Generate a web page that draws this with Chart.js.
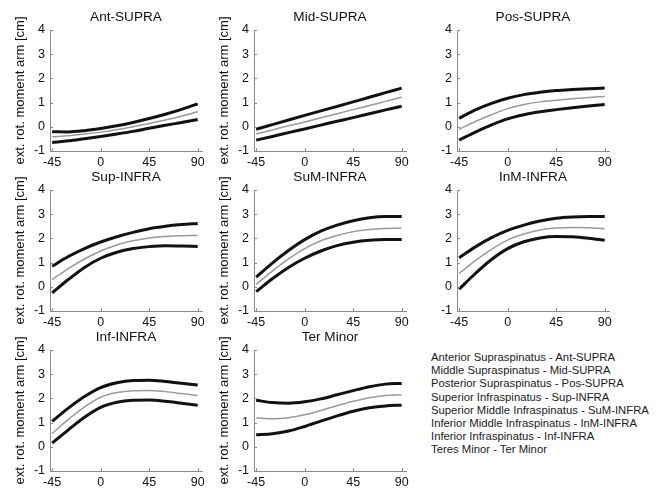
<!DOCTYPE html>
<html>
<head>
<meta charset="utf-8">
<script src="https://cdn.jsdelivr.net/npm/chart.js@4.4.1/dist/chart.umd.min.js"></script>
<style>
  html, body { margin: 0; padding: 0; background: #fff; }
  #page { position: relative; width: 662px; height: 489px; overflow: hidden; font-family: 'Liberation Sans', Arial, sans-serif; }
  .panel { position: absolute; }
  .panel canvas { display: block; }
  #key { position: absolute; left: 431px; top: 351px; font-size: 11.3px; line-height: 13.2px; color: #1a1a1a; white-space: nowrap; }
</style>
</head>
<body>
<div id="page"><div id="key"></div></div>
<script>
// DATA
const angles = [-45, -30, -15, 0, 15, 30, 45, 60, 75, 90];
const xTicks = [-45, 0, 45, 90];
const yLabel = 'ext. rot. moment arm [cm]';

const antUpper = [-0.2, -0.21, -0.16, -0.07, 0.04, 0.18, 0.34, 0.52, 0.72, 0.95];
const antMean  = [-0.41, -0.37, -0.3, -0.22, -0.12, 0.0, 0.14, 0.28, 0.44, 0.62];
const antLower = [-0.65, -0.58, -0.49, -0.4, -0.3, -0.19, -0.06, 0.06, 0.18, 0.3];

const midUpper = [-0.1, 0.09, 0.28, 0.47, 0.66, 0.84, 1.03, 1.22, 1.41, 1.6];
const midMean  = [-0.3, -0.13, 0.04, 0.2, 0.37, 0.54, 0.71, 0.88, 1.05, 1.22];
const midLower = [-0.55, -0.4, -0.24, -0.09, 0.07, 0.23, 0.38, 0.54, 0.7, 0.85];

const posUpper = [0.35, 0.7, 0.97, 1.18, 1.33, 1.43, 1.5, 1.54, 1.57, 1.6];
const posMean  = [-0.1, 0.22, 0.5, 0.75, 0.92, 1.03, 1.1, 1.16, 1.21, 1.25];
const posLower = [-0.55, -0.22, 0.08, 0.33, 0.5, 0.62, 0.71, 0.79, 0.86, 0.92];

const supUpper = [0.85, 1.25, 1.58, 1.85, 2.07, 2.25, 2.4, 2.5, 2.57, 2.62];
const supMean  = [0.3, 0.75, 1.15, 1.48, 1.73, 1.9, 2.02, 2.08, 2.11, 2.12];
const supLower = [-0.25, 0.3, 0.8, 1.18, 1.43, 1.58, 1.66, 1.7, 1.69, 1.67];

const sumUpper = [0.4, 0.98, 1.5, 1.95, 2.3, 2.55, 2.73, 2.85, 2.9, 2.9];
const sumMean  = [0.1, 0.65, 1.15, 1.58, 1.9, 2.12, 2.28, 2.37, 2.41, 2.42];
const sumLower = [-0.2, 0.33, 0.8, 1.18, 1.48, 1.7, 1.84, 1.92, 1.95, 1.95];

const inmUpper = [1.2, 1.65, 2.03, 2.33, 2.55, 2.72, 2.83, 2.88, 2.9, 2.9];
const inmMean  = [0.55, 1.08, 1.55, 1.93, 2.18, 2.35, 2.43, 2.45, 2.44, 2.4];
const inmLower = [-0.1, 0.55, 1.13, 1.58, 1.86, 2.02, 2.08, 2.07, 2.01, 1.92];

const infUpper = [1.05, 1.6, 2.08, 2.45, 2.65, 2.74, 2.75, 2.7, 2.63, 2.55];
const infMean  = [0.55, 1.13, 1.65, 2.05, 2.24, 2.32, 2.33, 2.28, 2.2, 2.12];
const infLower = [0.15, 0.7, 1.22, 1.63, 1.84, 1.92, 1.93, 1.88, 1.8, 1.72];

const terUpper = [1.92, 1.83, 1.8, 1.86, 1.98, 2.15, 2.32, 2.48, 2.59, 2.62];
const terMean  = [1.2, 1.16, 1.2, 1.32, 1.5, 1.7, 1.88, 2.03, 2.12, 2.15];
const terLower = [0.5, 0.54, 0.65, 0.84, 1.06, 1.28, 1.47, 1.61, 1.69, 1.72];

const keyLines = [
  'Anterior Supraspinatus - Ant-SUPRA',
  'Middle Supraspinatus - Mid-SUPRA',
  'Posterior Supraspinatus - Pos-SUPRA',
  'Superior Infraspinatus - Sup-INFRA',
  'Superior Middle Infraspinatus - SuM-INFRA',
  'Inferior Middle Infraspinatus - InM-INFRA',
  'Inferior Infraspinatus - Inf-INFRA',
  'Teres Minor - Ter Minor'
];

// LAYOUT
const colLeft = [50, 254, 457];
const rowTop = [30, 190, 350];
const plotW = 152, plotH = 121;
const padL = 50, padT = 25, padR = 12, padB = 22;
const axisColor = '#8a8a8a';
const fontFamily = "'Liberation Sans', Arial, sans-serif";

const panels = [
  { title: 'Ant-SUPRA', upper: antUpper, mean: antMean, lower: antLower, col: 0, row: 0 },
  { title: 'Mid-SUPRA', upper: midUpper, mean: midMean, lower: midLower, col: 1, row: 0 },
  { title: 'Pos-SUPRA', upper: posUpper, mean: posMean, lower: posLower, col: 2, row: 0 },
  { title: 'Sup-INFRA', upper: supUpper, mean: supMean, lower: supLower, col: 0, row: 1 },
  { title: 'SuM-INFRA', upper: sumUpper, mean: sumMean, lower: sumLower, col: 1, row: 1 },
  { title: 'InM-INFRA', upper: inmUpper, mean: inmMean, lower: inmLower, col: 2, row: 1 },
  { title: 'Inf-INFRA', upper: infUpper, mean: infMean, lower: infLower, col: 0, row: 2 },
  { title: 'Ter Minor', upper: terUpper, mean: terMean, lower: terLower, col: 1, row: 2 }
];

// small inward tick marks, matlab style
const inwardTicks = {
  id: 'inwardTicks',
  afterDatasetsDraw(chart) {
    const { ctx, chartArea: a, scales: { x, y } } = chart;
    ctx.save();
    ctx.strokeStyle = axisColor;
    ctx.lineWidth = 1;
    ctx.beginPath();
    x.ticks.forEach(t => {
      const px = Math.round(x.getPixelForValue(t.value)) + 0.5;
      ctx.moveTo(px, a.bottom); ctx.lineTo(px, a.bottom - 3);
    });
    y.ticks.forEach(t => {
      const py = Math.round(y.getPixelForValue(t.value)) + 0.5;
      ctx.moveTo(a.left, py); ctx.lineTo(a.left + 3, py);
    });
    ctx.stroke();
    ctx.restore();
  }
};

// panel title over the plot area and rotated y label (not squeezed to axis height)
const panelText = {
  id: 'panelText',
  afterDraw(chart, args, opts) {
    const { ctx, chartArea: a } = chart;
    ctx.save();
    ctx.fillStyle = '#111';
    ctx.textAlign = 'center';
    ctx.textBaseline = 'middle';
    ctx.font = `13.6px ${fontFamily}`;
    ctx.fillText(opts.title, (a.left + a.right) / 2, a.top - 13);
    if (opts.yText) {
      ctx.translate(a.left - 30, (a.top + a.bottom) / 2);
      ctx.rotate(-Math.PI / 2);
      ctx.font = `13px ${fontFamily}`;
      ctx.fillText(opts.yText, 0, 0);
    }
    ctx.restore();
  }
};

const toPoints = vals => vals.map((v, i) => ({ x: angles[i], y: v }));

function makePanel(p) {
  const page = document.getElementById('page');
  const w = padL + plotW + padR, h = padT + plotH + padB;
  const box = document.createElement('div');
  box.className = 'panel';
  box.style.left = (colLeft[p.col] - padL) + 'px';
  box.style.top = (rowTop[p.row] - padT) + 'px';
  box.style.width = w + 'px';
  box.style.height = h + 'px';
  const cv = document.createElement('canvas');
  cv.width = w; cv.height = h;
  cv.style.width = w + 'px'; cv.style.height = h + 'px';
  box.appendChild(cv);
  page.appendChild(box);

  const bound = { borderColor: '#111', borderWidth: 3, pointRadius: 0, cubicInterpolationMode: 'monotone', fill: false };
  new Chart(cv, {
    type: 'line',
    data: {
      datasets: [
        { ...bound, data: toPoints(p.upper) },
        { data: toPoints(p.mean), borderColor: '#9a9a9a', borderWidth: 1.5, pointRadius: 0, cubicInterpolationMode: 'monotone', fill: false },
        { ...bound, data: toPoints(p.lower) }
      ]
    },
    options: {
      responsive: false,
      maintainAspectRatio: false,
      animation: false,
      devicePixelRatio: 1,
      layout: { padding: { top: padT, right: padR, bottom: 0, left: 0 } },
      plugins: {
        legend: { display: false },
        tooltip: { enabled: false },
        title: { display: false },
        panelText: { title: p.title, yText: p.col < 2 ? yLabel : '' }
      },
      scales: {
        x: {
          type: 'linear', min: -47, max: 94,
          grid: { display: false, drawTicks: false },
          border: { display: true, color: axisColor, width: 1 },
          afterBuildTicks: s => { s.ticks = xTicks.map(v => ({ value: v })); },
          afterFit: s => { s.height = padB; s.paddingLeft = 0; s.paddingRight = 0; },
          ticks: { color: '#111', padding: 4, maxRotation: 0, autoSkip: false, font: { family: fontFamily, size: 12.5 } }
        },
        y: {
          min: -1, max: 4,
          grid: { display: false, drawTicks: false },
          border: { display: true, color: axisColor, width: 1 },
          afterFit: s => { s.width = padL; s.paddingTop = 0; s.paddingBottom = 0; },
          ticks: { stepSize: 1, color: '#111', padding: 5, font: { family: fontFamily, size: 12.5 } }
        }
      }
    },
    plugins: [inwardTicks, panelText]
  });
}

panels.forEach(p => makePanel(p));

document.getElementById('key').innerHTML = keyLines.map(t => `<div>${t}</div>`).join('');
</script>
</body>
</html>
